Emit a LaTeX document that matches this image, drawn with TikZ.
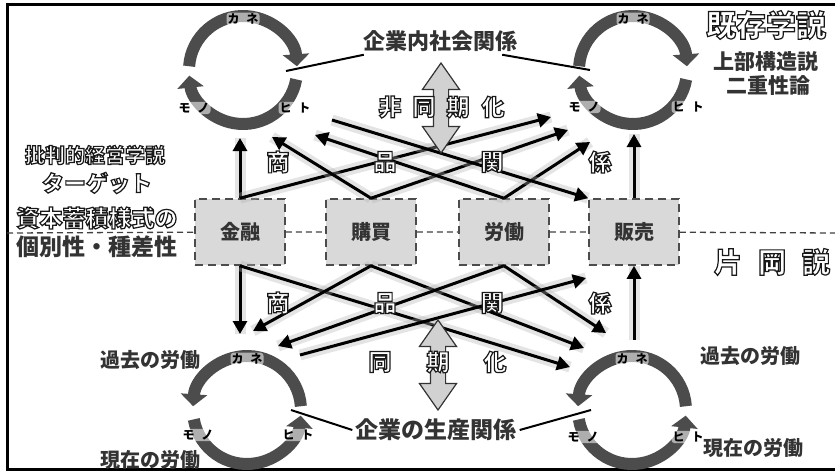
\documentclass[tikz,border=0pt]{standalone}
\usepackage{fontspec}
\setmainfont{Noto Sans CJK JP}
\usetikzlibrary{arrows.meta,positioning,shapes.arrows,calc}
\newcommand{\fsz}[1]{\fontsize{#1}{#1}\selectfont}
% white letters with a dark outline
\newcommand{\outl}[1]{\special{pdf:literal direct 1 g 0.1 G 1.2 w 2 Tr}#1\special{pdf:literal direct 0 Tr}}

\begin{document}
\begin{tikzpicture}[x=1pt, y=-1pt,
    box/.style={draw=black!70, fill=black!15, line width=1.6pt, dash pattern=on 8pt off 5pt, minimum width=90pt, minimum height=66pt, font=\fsz{20pt}\bfseries, text=black!80},
    ring/.style={circle, minimum size=122pt, inner sep=0pt},
    band/.style={draw=black!70, line width=12pt, -{Triangle[length=12pt, width=26pt]}},
    tag/.style={font=\fsz{12pt}\bfseries, inner sep=1pt, fill=white, fill opacity=0.55, text opacity=1, rounded corners=3pt},
    flow/.style={line width=3pt, -{Triangle[length=13pt, width=14pt]}, preaction={draw=black!30, line width=11pt, opacity=0.35, -}},
    tie/.style={line width=2pt},
    divider/.style={draw=black!75, line width=1.3pt, dash pattern=on 6pt off 4pt},
    sync/.style={double arrow, draw=black!80, fill=black!18, line width=1.2pt, shape border rotate=90, minimum height=90pt, minimum width=36pt, inner sep=7pt, double arrow head extend=11pt, double arrow tip angle=70},
    kanji/.style={font=\fsz{23pt}\bfseries, inner sep=0pt},
    txt/.style={font=\fsz{#1}\bfseries, inner sep=3pt, text=black!80}
  ]
  \useasboundingbox (0,0) rectangle (835,471);
  \draw[line width=3pt] (845,4) -- (7,4) -- (7,469) -- (845,469);

  % four activities on the dividing line
  \node[box] (kinyu) at (240,232) {金融};
  \node[box] (koubai) at (371,232) {購買};
  \node[box] (roudou) at (504,232) {労働};
  \node[box] (hanbai) at (634,232) {販売};
  \coordinate (lend) at (7,233);
  \coordinate (rend) at (835,233);
  \draw[divider] (lend) -- (kinyu) (kinyu) -- (koubai) (koubai) -- (roudou) (roudou) -- (hanbai) (hanbai) -- (rend);

  % money / goods / people cycles
  \node[ring] (tl) at (243,70) {};
  \node[ring] (tr) at (633,70) {};
  \node[ring] (bl) at (247,410) {};
  \node[ring] (br) at (632,410) {};
  \foreach \rg/\sg in {tl/1, tr/1, bl/-1, br/-1} {
    \draw[band] ($(\rg)+({270-86*\sg}:54)$) arc[start angle={270-86*\sg}, end angle={270+86*\sg}, radius=54];
    \draw[band] ($(\rg)+({90-80*\sg}:54)$) arc[start angle={90-80*\sg}, end angle={90+84*\sg}, radius=54];
  }
  \foreach \rg/\dx/\dy in {tl/52/38, tr/55/37, bl/51/25, br/56/27} {
    \node[tag] (\rg-kane) at ($(\rg)+(0,-51)$) {カ\hspace{7pt}ネ};
    \node[tag] (\rg-mono) at ($(\rg)+(-49,\dy)$) {モ\hspace{7pt}ノ};
    \node[tag] (\rg-hito) at ($(\rg)+(\dx,\dy)$) {ヒ\hspace{7pt}ト};
  }

  % commodity relations, upper half
  \coordinate (ta0) at (240,138);
  \coordinate (ta1) at (272,137);
  \coordinate (ta2) at (315,135);
  \coordinate (tst) at (332,120);
  \coordinate (tb0) at (634,134);
  \coordinate (tb1) at (551,117);
  \coordinate (tb2) at (568,130);
  \coordinate (tb3) at (590,142);
  \draw[flow] (kinyu.north) -- (ta0);
  \draw[flow] (kinyu.north) -- (tb1);
  \draw[flow] (koubai.north) -- (ta1);
  \draw[flow] (koubai.north) -- (tb2);
  \draw[flow] (roudou.north) -- (ta2);
  \draw[flow] (roudou.north) -- (tb3);
  \draw[flow] (tst) -- (hanbai.north west);
  \draw[flow] (hanbai.north) -- (tb0);

  % commodity relations, lower half
  \coordinate (ba0) at (240,334);
  \coordinate (ba1) at (253,331);
  \coordinate (ba2) at (278,346);
  \coordinate (bst) at (300,355);
  \coordinate (bb0) at (634,340);
  \coordinate (bb1) at (570,367);
  \coordinate (bb2) at (584,348);
  \coordinate (bb3) at (606,333);
  \coordinate (bhan) at (586,278);
  \draw[flow] (kinyu.south) -- (ba0);
  \draw[flow] (kinyu.south) -- (bb1);
  \draw[flow] (koubai.south) -- (ba1);
  \draw[flow] (koubai.south) -- (bb2);
  \draw[flow] (roudou.south) -- (ba2);
  \draw[flow] (roudou.south) -- (bb3);
  \draw[flow] (bst) -- (bhan);
  \draw[flow] (bb0) -- (hanbai.south);

  \node[sync] (upsync) at (441,108) {};
  \node[sync] (dnsync) at (438,365) {};

  \foreach \w/\x in {商/278, 品/385, 関/492, 係/600} {
    \node[kanji] (up-\x) at (\x,162) {\outl{\w}};
    \node[kanji] (dn-\x) at (\x,303) {\outl{\w}};
  }
  \foreach \w/\x in {非/390, 同/424, 期/458, 化/493}
    \node[kanji] (asy-\x) at (\x,107) {\outl{\w}};
  \foreach \w/\x in {同/380, 期/438, 化/495}
    \node[kanji] (syn-\x) at (\x,362) {\outl{\w}};

  % relations of the firm
  \node[txt=22pt] (soc) at (440,41) {企業内社会関係};
  \node[txt=23pt] (prod) at (436,430) {企業の生産関係};
  \coordinate (tlend) at (286,71);
  \coordinate (trend) at (590,70);
  \coordinate (blend) at (291,410);
  \coordinate (brend) at (591,410);
  \draw[tie] ([xshift=4pt]soc.south west) -- (tlend);
  \draw[tie] ([xshift=-18pt]soc.south east) -- (trend);
  \draw[tie] (prod.west) -- (blend);
  \draw[tie] (prod.east) -- (brend);

  % theories
  \node[txt=20pt] (hihan) at (95,155) {\outl{批判的経営学説}};
  \node[txt=22pt] (target) at (97,183) {\outl{ターゲット}};
  \node[txt=23pt] (shihon) at (97,218) {\outl{資本蓄積様式の}};
  \node[txt=23pt] (kobetsu) at (97,247) {個別性・種差性};
  \node[txt=30pt] (kison) at (766,25) {\outl{既存学説}};
  \node[txt=21pt] (jobu) at (766,62) {上部構造説};
  \node[txt=21pt] (niju) at (768,85) {二重性論};
  \node[txt=28pt] (kataoka) at (772,262) {\outl{片\hspace{16pt}岡\hspace{16pt}説}};
  \node[txt=20pt] (kako1) at (150,360) {過去の労働};
  \node[txt=20pt] (genzai1) at (150,460) {現在の労働};
  \node[txt=20pt] (kako2) at (750,356) {過去の労働};
  \node[txt=20pt] (genzai2) at (753,448) {現在の労働};
\end{tikzpicture}
\end{document}
